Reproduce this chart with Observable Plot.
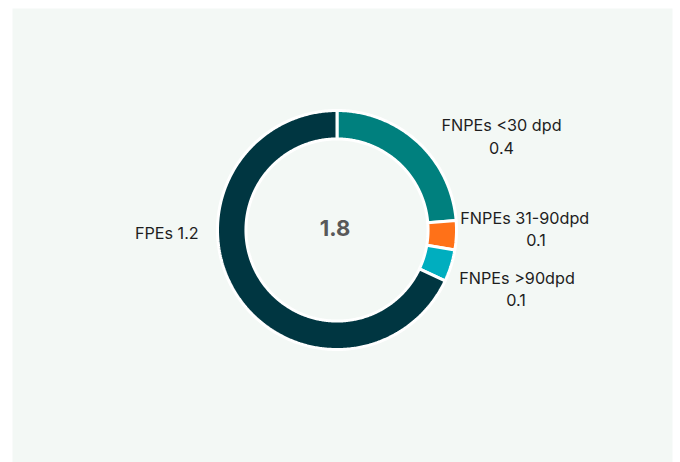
<!DOCTYPE html>
<html>
<head>
<meta charset="utf-8">
<script src="https://cdn.jsdelivr.net/npm/d3@7"></script>
<script src="https://cdn.jsdelivr.net/npm/@observablehq/plot@0.6"></script>
<style>
  html, body { margin: 0; padding: 0; background: #ffffff; }
  #chart svg { display: block; }
</style>
</head>
<body>
<div id="chart"></div>
<script>
// ---- data ----
const categories = ["FNPEs <30 dpd", "FNPEs 31-90dpd", "FNPEs >90dpd", "FPEs"];
const values = [0.427, 0.071, 0.078, 1.224];
const colors = ["#00807e", "#ff7118", "#00aebf", "#003641"];
// label offsets (px) from the slice's outer mid-point: [nameDx, nameDy, valueDx, valueDy]
const labelOffsets = [
  [83.5, -11, 83.5, 11.6],
  [68.4, -11.4, 79.6, 10.3],
  [66, 18.1, 65, 39.8],
  [-69.3, -55.2, null, null]
];

// ---- geometry ----
const innerR = 0.762, outerR = 1;
const fmt = d3.format(".1f");
const total = d3.sum(values);
const arcs = d3.pie().sort(null).value(d => d)(values);

const pts = [];
arcs.forEach((a, i) => {
  const n = Math.max(8, Math.ceil((a.endAngle - a.startAngle) / 0.01));
  for (let k = 0; k <= n; k++) {
    const t = a.startAngle + (a.endAngle - a.startAngle) * k / n;
    pts.push({cat: categories[i], x: outerR * Math.sin(t), y: outerR * Math.cos(t)});
  }
  for (let k = n; k >= 0; k--) {
    const t = a.startAngle + (a.endAngle - a.startAngle) * k / n;
    pts.push({cat: categories[i], x: innerR * Math.sin(t), y: innerR * Math.cos(t)});
  }
});

const labels = arcs.map((a, i) => {
  const m = (a.startAngle + a.endAngle) / 2;
  const o = labelOffsets[i];
  const single = o[2] === null;
  return {
    x: outerR * Math.sin(m), y: outerR * Math.cos(m),
    name: single ? `${categories[i]} ${fmt(values[i])}` : categories[i],
    value: single ? null : fmt(values[i]),
    ndx: o[0], ndy: o[1], vdx: o[2], vdy: o[3]
  };
});

// ---- layout (pixels) ----
const W = 680, H = 462;
const mL = 12, mR = 8, mT = 8, mB = 0;
const cx = 336.5, cy = 229.5, pxPerUnit = 119.5;
const xDomain = [-(cx - mL) / pxPerUnit, (W - mR - cx) / pxPerUnit];
const yDomain = [-(H - mB - cy) / pxPerUnit, (cy - mT) / pxPerUnit];

const font = "Inter, 'Noto Sans', sans-serif";

const marks = [
  Plot.frame({fill: "#f3f8f5", stroke: null}),
  Plot.line(pts, {
    x: "x", y: "y", z: "cat", fill: "cat",
    stroke: "#ffffff", strokeWidth: 3, strokeLinejoin: "miter",
    curve: "linear-closed"
  }),
  Plot.text([fmt(total)], {
    x: () => 0, y: () => 0, text: d => d,
    fontSize: 22, fontWeight: 700, fill: "#595959",
    textAnchor: "middle", lineAnchor: "bottom", dx: -2, dy: 6
  })
];
labels.forEach(l => {
  marks.push(Plot.text([l], {
    x: "x", y: "y", text: "name", dx: l.ndx, dy: l.ndy,
    fontSize: 16.2, fill: "#1e1e1e", textAnchor: "middle", lineAnchor: "bottom"
  }));
  if (l.value !== null) {
    marks.push(Plot.text([l], {
      x: "x", y: "y", text: "value", dx: l.vdx, dy: l.vdy,
      fontSize: 16.2, fill: "#1e1e1e", textAnchor: "middle", lineAnchor: "bottom"
    }));
  }
});

const chart = Plot.plot({
  width: W, height: H,
  marginLeft: mL, marginRight: mR, marginTop: mT, marginBottom: mB,
  style: {fontFamily: font, background: "#ffffff", overflow: "visible"},
  x: {domain: xDomain, axis: null},
  y: {domain: yDomain, axis: null},
  color: {domain: categories, range: colors},
  marks
});
document.getElementById("chart").appendChild(chart);
</script>
</body>
</html>
